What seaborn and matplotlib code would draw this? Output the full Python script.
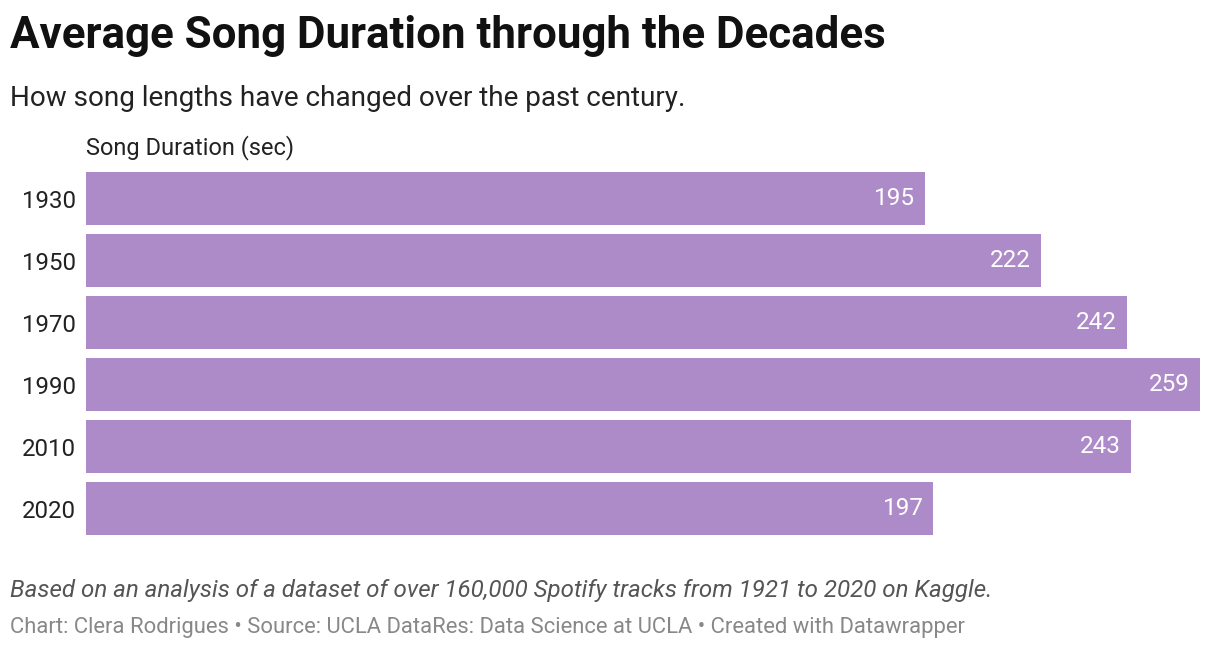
import matplotlib
matplotlib.use("Agg")
import matplotlib.pyplot as plt
import seaborn as sns
import pandas as pd

decades = ["1930", "1950", "1970", "1990", "2010", "2020"]
durations = [195, 222, 242, 259, 243, 197]

sns.set_style("white")
plt.rcParams["font.family"] = ["Roboto", "DejaVu Sans"]

df = pd.DataFrame({"decade": decades, "duration": durations})

fig = plt.figure(figsize=(12.2, 6.5), dpi=100)
ax = fig.add_axes([86/1220, 1 - 539.5/650, (1200 - 86)/1220, 372/650])
sns.barplot(data=df, x="duration", y="decade", orient="h", color="#ad8bc8",
            saturation=1, width=0.855, linewidth=0, ax=ax)
ax.set_xlim(0, 259)
ax.set_ylim(5.5, -0.5)
for s in ax.spines.values():
    s.set_visible(False)
ax.set_xticks([])
ax.set_xlabel("")
ax.set_ylabel("")
ax.tick_params(axis="y", length=0, pad=7.3, labelsize=17.3, labelcolor="#222222")

for i, v in enumerate(durations):
    ax.text(v - 10/4.3, i, str(v), ha="right", va="center", color="white", fontsize=17.5)

fig.text(10/1220, 1 - 36/650, "Average Song Duration through the Decades",
         fontsize=31.6, fontweight="bold", color="#111111", va="center", ha="left")
fig.text(10/1220, 1 - 98/650, "How song lengths have changed over the past century.",
         fontsize=20.1, color="#222222", va="center", ha="left")
fig.text(86/1220, 1 - 148/650, "Song Duration (sec)",
         fontsize=17, color="#222222", va="center", ha="left")
fig.text(10/1220, 1 - 590/650,
         "Based on an analysis of a dataset of over 160,000 Spotify tracks from 1921 to 2020 on Kaggle.",
         fontsize=17.4, style="italic", color="#555555", va="center", ha="left")
fig.text(10/1220, 1 - 627/650,
         "Chart: Clera Rodrigues \u2022 Source: UCLA DataRes: Data Science at UCLA \u2022 Created with Datawrapper",
         fontsize=15.8, color="#888888", va="center", ha="left")

fig.savefig("out.png", dpi=100, facecolor="white")
